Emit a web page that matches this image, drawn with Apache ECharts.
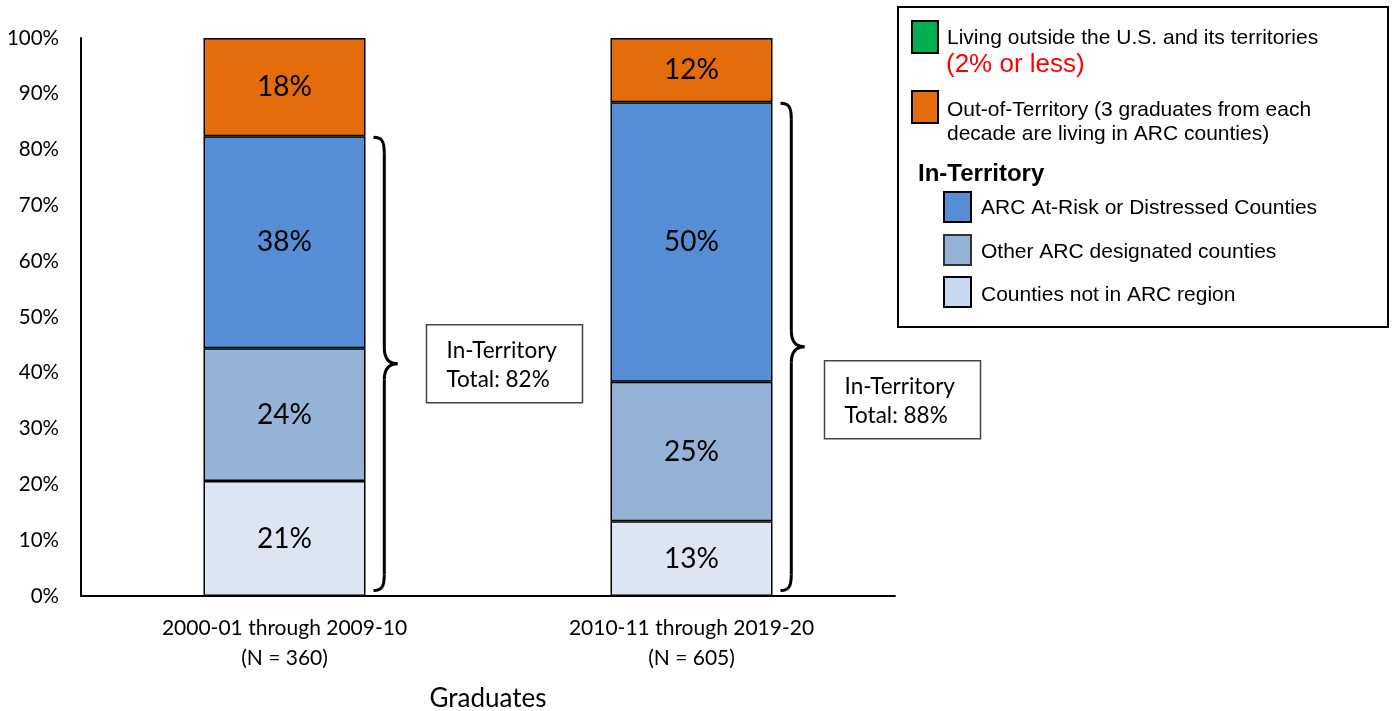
<!DOCTYPE html>
<html>
<head>
<meta charset="utf-8">
<script src="https://cdn.jsdelivr.net/npm/echarts@6/dist/echarts.min.js"></script>
<style>html,body{margin:0;padding:0;background:#fff;}#c{width:1392px;height:711px;}</style>
</head>
<body>
<div id="c"></div>
<script>
// ---- data ----
const categories = ['2000-01 through 2009-10\n(N = 360)', '2010-11 through 2019-20\n(N = 605)'];
const notInArc   = [20.6, 13.4];
const otherArc   = [23.8, 25.0];
const atRisk     = [38.0, 50.1];
const outOfTerr  = [17.6, 11.5];
const notInArcLabels  = ['21%', '13%'];
const otherArcLabels  = ['24%', '25%'];
const atRiskLabels    = ['38%', '50%'];
const outOfTerrLabels = ['18%', '12%'];
const inTerritoryTotals = ['82%', '88%'];
const yTicks = [0, 10, 20, 30, 40, 50, 60, 70, 80, 90, 100];

const seriesNames = ['Counties not in ARC region', 'Other ARC designated counties', 'ARC At-Risk or Distressed Counties', 'Out-of-Territory'];
const barColors = ['#DCE6F2', '#95B3D7', '#558ED5', '#E46C0A'];
const labelFont = 'Lato, "Open Sans", sans-serif';

function mk(name, data, labels, color) {
  return {
    name: name, type: 'bar', stack: 'total', data: data, barWidth: 162,
    itemStyle: { color: color, borderColor: '#000', borderWidth: 1.5 },
    label: { show: true, position: 'inside', color: '#000', fontSize: 28, fontFamily: labelFont,
      formatter: p => labels[p.dataIndex] },
    emphasis: { disabled: true }
  };
}

const chart = echarts.init(document.getElementById('c'), null, { renderer: 'canvas' });
chart.setOption({
  animation: false,
  backgroundColor: '#fff',
  grid: { left: 81, right: 497, top: 38, bottom: 115, containLabel: false, outerBoundsMode: 'none' },
  xAxis: {
    type: 'category', data: categories,
    name: 'Graduates', nameLocation: 'middle', nameGap: 90,
    nameTextStyle: { fontSize: 26, fontFamily: labelFont, color: '#000' },
    axisLine: { lineStyle: { color: '#000', width: 2 } },
    axisTick: { show: false },
    axisLabel: { fontSize: 21, fontFamily: labelFont, color: '#000', lineHeight: 30, margin: 17 }
  },
  yAxis: {
    type: 'value', min: 0, max: 100, interval: 10,
    axisLine: { show: true, lineStyle: { color: '#000', width: 2 } },
    axisTick: { show: false },
    splitLine: { show: false },
    axisLabel: { fontSize: 20.5, fontFamily: labelFont, color: '#000', margin: 22,
      formatter: v => yTicks.includes(v) ? v + '%' : '' }
  },
  series: [
    mk(seriesNames[0], notInArc, notInArcLabels, barColors[0]),
    mk(seriesNames[1], otherArc, otherArcLabels, barColors[1]),
    mk(seriesNames[2], atRisk, atRiskLabels, barColors[2]),
    mk(seriesNames[3], outOfTerr, outOfTerrLabels, barColors[3])
  ]
});

// ---- braces and total boxes, positioned through the chart's scales ----
const braceStyle = { fill: null, stroke: '#000', lineWidth: 3 };
function brace(x0, yTop, yBot, w) {
  const ym = (yTop + yBot) / 2;
  const xv = x0 + w * 0.45;
  const r = 16;
  return [
    { type: 'bezierCurve', shape: { x1: x0, y1: yTop, cpx1: x0 + w * 0.35, cpy1: yTop, cpx2: xv, cpy2: yTop + 4, x2: xv, y2: yTop + r }, style: braceStyle },
    { type: 'line', shape: { x1: xv, y1: yTop + r, x2: xv, y2: ym - r }, style: braceStyle },
    { type: 'bezierCurve', shape: { x1: xv, y1: ym - r, cpx1: xv, cpy1: ym - 4, cpx2: x0 + w * 0.7, cpy2: ym, x2: x0 + w, y2: ym }, style: braceStyle },
    { type: 'bezierCurve', shape: { x1: x0 + w, y1: ym, cpx1: x0 + w * 0.7, cpy1: ym, cpx2: xv, cpy2: ym + 4, x2: xv, y2: ym + r }, style: braceStyle },
    { type: 'line', shape: { x1: xv, y1: ym + r, x2: xv, y2: yBot - r }, style: braceStyle },
    { type: 'bezierCurve', shape: { x1: xv, y1: yBot - r, cpx1: xv, cpy1: yBot - 4, cpx2: x0 + w * 0.35, cpy2: yBot, x2: x0, y2: yBot }, style: braceStyle }
  ];
}

let graphics = [];
const boxDx = [29, 20];
const boxDy = [0, 53];
for (let i = 0; i < categories.length; i++) {
  const total = notInArc[i] + otherArc[i] + atRisk[i];
  const pTop = chart.convertToPixel({ gridIndex: 0 }, [i, total]);
  const pBot = chart.convertToPixel({ gridIndex: 0 }, [i, 0.8]);
  const xRight = pTop[0] + 81 + 8;
  const yTop = pTop[1] + 1;
  const yBot = pBot[1] - 1;
  graphics = graphics.concat(brace(xRight, yTop, yBot, 24));
  const ym = (yTop + yBot) / 2;
  const bx = xRight + 24 + boxDx[i];
  const by = ym - 39 + boxDy[i];
  graphics.push({
    type: 'rect', shape: { x: bx, y: by, width: 156, height: 78 },
    style: { fill: '#fff', stroke: '#444', lineWidth: 1.5 }
  });
  graphics.push({
    type: 'text', x: bx + 20, y: by + 11,
    style: { text: 'In-Territory\nTotal: ' + inTerritoryTotals[i], fill: '#000', fontSize: 22.5,
      fontFamily: labelFont, lineHeight: 29 }
  });
}

// ---- legend box ----
const lf = '"Liberation Sans", Arial, sans-serif';
const fs = 21;
graphics.push(
  { type: 'rect', shape: { x: 898, y: 7, width: 490, height: 320 }, style: { fill: '#fff', stroke: '#000', lineWidth: 2 } },
  { type: 'rect', shape: { x: 912, y: 21, width: 26, height: 32 }, style: { fill: '#00B050', stroke: '#000', lineWidth: 2 } },
  { type: 'text', x: 947, y: 38, style: { text: 'Living outside the U.S. and its territories', fill: '#000', fontSize: fs, fontFamily: lf, verticalAlign: 'middle' } },
  { type: 'text', x: 946, y: 65, style: { text: '(2% or less)', fill: '#FF0000', fontSize: 26, fontFamily: lf, verticalAlign: 'middle' } },
  { type: 'rect', shape: { x: 912, y: 91, width: 26, height: 32 }, style: { fill: '#E46C0A', stroke: '#000', lineWidth: 2 } },
  { type: 'text', x: 947, y: 110, style: { text: 'Out-of-Territory (3 graduates from each', fill: '#000', fontSize: fs, fontFamily: lf, verticalAlign: 'middle' } },
  { type: 'text', x: 947, y: 134, style: { text: 'decade are living in ARC counties)', fill: '#000', fontSize: fs, fontFamily: lf, verticalAlign: 'middle' } },
  { type: 'text', x: 918, y: 174, style: { text: 'In-Territory', fill: '#000', fontSize: 24, fontWeight: 'bold', fontFamily: lf, verticalAlign: 'middle' } },
  { type: 'rect', shape: { x: 944, y: 192, width: 27, height: 30 }, style: { fill: '#558ED5', stroke: '#000', lineWidth: 2 } },
  { type: 'text', x: 981, y: 208, style: { text: 'ARC At-Risk or Distressed Counties', fill: '#000', fontSize: fs, fontFamily: lf, verticalAlign: 'middle' } },
  { type: 'rect', shape: { x: 944, y: 235, width: 27, height: 30 }, style: { fill: '#95B3D7', stroke: '#333', lineWidth: 2 } },
  { type: 'text', x: 981, y: 252, style: { text: 'Other ARC designated counties', fill: '#000', fontSize: fs, fontFamily: lf, verticalAlign: 'middle' } },
  { type: 'rect', shape: { x: 944, y: 277, width: 27, height: 30 }, style: { fill: '#C6D9F1', stroke: '#000', lineWidth: 2 } },
  { type: 'text', x: 981, y: 295, style: { text: 'Counties not in ARC region', fill: '#000', fontSize: fs, fontFamily: lf, verticalAlign: 'middle' } }
);

chart.setOption({ graphic: graphics });
</script>
</body>
</html>
